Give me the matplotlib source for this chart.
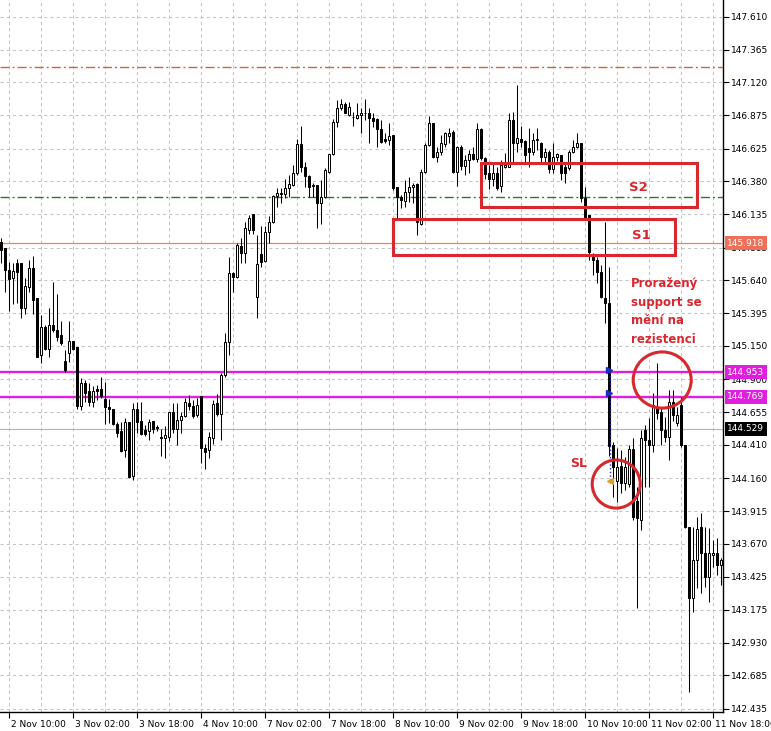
import matplotlib
matplotlib.use("Agg")
import matplotlib.pyplot as plt
from matplotlib.patches import Rectangle, Ellipse
from matplotlib.transforms import blended_transform_factory, ScaledTranslation

# H1 candles, one per hour (index 0 = 2 Nov 08:00)
opens = [145.93, 145.88, 145.72, 145.66, 145.77, 145.77, 145.43, 145.59, 145.73, 145.505,
         145.08, 145.29, 145.13, 145.305, 145.27, 145.23, 145.04, 145.10, 145.185, 145.14,
         144.70, 144.87, 144.81, 144.73, 144.825, 144.825, 144.755, 144.695, 144.675, 144.565,
         144.51, 144.37, 144.58, 144.18, 144.68, 144.59, 144.52, 144.51, 144.588, 144.546,
         144.47, 144.463, 144.47, 144.658, 144.53, 144.596, 144.626, 144.726, 144.70, 144.633,
         144.775, 144.384, 144.37, 144.46, 144.72, 144.638, 144.93, 145.18, 145.698, 145.668,
         145.90, 145.847, 146.02, 146.136, 145.518, 145.84, 145.787, 146.004, 146.074, 146.27,
         146.29, 146.286, 146.328, 146.353, 146.445, 146.657, 146.49, 146.42, 146.353, 146.353,
         146.222, 146.261, 146.454, 146.586, 146.827, 146.927, 146.96, 146.877, 146.865, 146.852,
         146.877, 146.895, 146.89, 146.852, 146.845, 146.77, 146.695, 146.69, 146.728, 146.336,
         146.266, 146.236, 146.304, 146.336, 146.361, 146.062, 146.453, 146.653, 146.815, 146.566,
         146.603, 146.66, 146.72, 146.753, 146.453, 146.64, 146.496, 146.54, 146.586, 146.546,
         146.77, 146.553, 146.44, 146.396, 146.446, 146.346, 146.486, 146.491, 146.84, 146.665,
         146.695, 146.685, 146.628, 146.603, 146.69, 146.67, 146.561, 146.603, 146.47, 146.566,
         146.578, 146.486, 146.478, 146.603, 146.64, 146.67, 146.254, 146.13, 145.83, 145.793,
         145.706, 145.506, 145.469, 144.409, 144.14, 144.252, 144.122, 144.117, 144.376, 143.993,
         143.848, 144.521, 144.446, 144.409, 144.695, 144.658, 144.521, 144.471, 144.733, 144.571,
         144.708, 144.409, 143.798, 143.262, 143.549, 143.798, 143.599, 143.424, 143.587, 143.604,
         143.512]
highs = [145.96, 145.88, 145.78, 145.77, 145.80, 145.77, 145.655, 145.79, 145.82, 145.51,
         145.38, 145.305, 145.43, 145.63, 145.54, 145.34, 145.12, 145.34, 145.19, 145.14,
         144.91, 144.895, 144.87, 144.85, 144.857, 144.92, 144.88, 144.755, 144.675, 144.58,
         144.58, 144.61, 144.58, 144.72, 144.73, 144.73, 144.56, 144.60, 144.59, 144.56,
         144.53, 144.55, 144.658, 144.72, 144.72, 144.658, 144.758, 144.783, 144.745, 144.758,
         144.778, 144.42, 144.508, 144.746, 144.79, 144.945, 145.25, 145.817, 145.70, 145.917,
         145.955, 146.075, 146.13, 146.14, 145.98, 146.05, 146.047, 146.12, 146.279, 146.33,
         146.328, 146.396, 146.428, 146.503, 146.695, 146.794, 146.528, 146.428, 146.366, 146.353,
         146.391, 146.478, 146.586, 146.845, 146.99, 146.994, 146.977, 146.977, 146.902, 146.965,
         146.927, 146.994, 146.927, 146.89, 146.852, 146.84, 146.74, 146.82, 146.728, 146.341,
         146.279, 146.391, 146.416, 146.366, 146.366, 146.47, 146.665, 146.87, 146.82, 146.64,
         146.728, 146.753, 146.778, 146.765, 146.645, 146.653, 146.578, 146.616, 146.64, 146.815,
         146.778, 146.566, 146.503, 146.516, 146.486, 146.54, 146.59, 146.89, 146.902, 147.10,
         146.795, 146.69, 146.778, 146.74, 146.778, 146.678, 146.628, 146.616, 146.665, 146.59,
         146.578, 146.516, 146.616, 146.69, 146.745, 146.67, 146.341, 146.13, 145.843, 145.818,
         145.755, 146.08, 145.74, 144.434, 144.385, 144.372, 144.322, 144.409, 144.459, 144.098,
         144.521, 144.558, 144.608, 144.80, 145.02, 144.683, 144.621, 144.82, 144.82, 144.695,
         144.77, 144.409, 143.798, 143.798, 143.873, 143.898, 143.798, 143.786, 143.698, 143.71,
         143.562]
lows = [145.77, 145.55, 145.41, 145.46, 145.47, 145.355, 145.39, 145.555, 145.39, 145.065,
        145.02, 145.12, 145.07, 145.255, 145.19, 145.155, 144.955, 145.03, 145.12, 144.68,
        144.67, 144.73, 144.70, 144.695, 144.745, 144.76, 144.565, 144.575, 144.56, 144.47,
        144.36, 144.32, 144.16, 144.15, 144.50, 144.485, 144.476, 144.45, 144.496, 144.51,
        144.33, 144.31, 144.44, 144.496, 144.41, 144.50, 144.62, 144.67, 144.608, 144.616,
        144.277, 144.227, 144.31, 144.42, 144.626, 144.45, 144.92, 145.08, 145.556, 145.66,
        145.767, 145.767, 145.99, 145.99, 145.356, 145.742, 145.78, 145.917, 146.067, 146.186,
        146.216, 146.254, 146.266, 146.346, 146.428, 146.453, 146.34, 146.266, 146.266, 146.03,
        146.062, 146.255, 146.446, 146.578, 146.79, 146.915, 146.89, 146.87, 146.795, 146.845,
        146.74, 146.84, 146.67, 146.79, 146.64, 146.67, 146.665, 146.653, 146.316, 146.104,
        146.179, 146.192, 146.229, 146.216, 145.98, 146.055, 146.446, 146.645, 146.553, 146.528,
        146.578, 146.64, 146.665, 146.446, 146.346, 146.466, 146.428, 146.446, 146.54, 146.528,
        146.54, 146.396, 146.321, 146.346, 146.316, 146.304, 146.48, 146.486, 146.516, 146.603,
        146.64, 146.528, 146.486, 146.578, 146.615, 146.528, 146.516, 146.446, 146.446, 146.53,
        146.391, 146.366, 146.466, 146.59, 146.628, 146.229, 146.104, 145.79, 145.68, 145.618,
        145.506, 145.32, 144.33, 144.02, 143.985, 144.047, 144.07, 144.097, 143.848, 143.187,
        143.773, 144.097, 144.097, 144.359, 144.60, 144.409, 144.434, 144.297, 144.59, 144.55,
        144.397, 143.786, 142.564, 143.162, 143.337, 143.30, 143.35, 143.237, 143.50, 143.437,
        143.362]
closes = [145.87, 145.72, 145.65, 145.71, 145.70, 145.43, 145.60, 145.73, 145.49, 145.07,
          145.29, 145.13, 145.31, 145.27, 145.22, 145.17, 144.97, 145.187, 145.13, 144.70,
          144.87, 144.80, 144.73, 144.815, 144.81, 144.775, 144.69, 144.675, 144.565, 144.50,
          144.366, 144.58, 144.17, 144.68, 144.58, 144.49, 144.49, 144.58, 144.53, 144.536,
          144.463, 144.48, 144.658, 144.526, 144.596, 144.626, 144.733, 144.70, 144.628, 144.708,
          144.384, 144.36, 144.466, 144.716, 144.638, 144.93, 145.18, 145.698, 145.668, 145.905,
          145.847, 146.03, 146.104, 146.017, 145.762, 145.78, 146.004, 146.074, 146.271, 146.296,
          146.287, 146.328, 146.358, 146.44, 146.657, 146.486, 146.421, 146.341, 146.346, 146.222,
          146.261, 146.466, 146.586, 146.827, 146.927, 146.96, 146.895, 146.935, 146.86, 146.877,
          146.895, 146.89, 146.852, 146.835, 146.77, 146.678, 146.686, 146.72, 146.329, 146.266,
          146.241, 146.304, 146.341, 146.354, 146.08, 146.453, 146.653, 146.815, 146.566, 146.603,
          146.67, 146.74, 146.745, 146.453, 146.64, 146.496, 146.541, 146.586, 146.546, 146.77,
          146.553, 146.436, 146.396, 146.446, 146.329, 146.503, 146.503, 146.84, 146.67, 146.703,
          146.678, 146.578, 146.603, 146.69, 146.70, 146.561, 146.603, 146.47, 146.566, 146.586,
          146.441, 146.441, 146.603, 146.64, 146.67, 146.254, 146.117, 145.855, 145.793, 145.706,
          145.519, 145.469, 144.40, 144.242, 144.245, 144.122, 144.242, 144.376, 143.873, 143.86,
          144.459, 144.446, 144.409, 144.708, 144.646, 144.521, 144.471, 144.733, 144.633, 144.633,
          144.409, 143.798, 143.262, 143.549, 143.778, 143.599, 143.424, 143.599, 143.604, 143.512,
          143.549]

time_tick_pos = [2, 18, 34, 50, 66, 82, 98, 114, 130, 146, 162, 178]
time_tick_labels = ["2 Nov 10:00", "3 Nov 02:00", "3 Nov 18:00", "4 Nov 10:00",
                    "7 Nov 02:00", "7 Nov 18:00", "8 Nov 10:00", "9 Nov 02:00",
                    "9 Nov 18:00", "10 Nov 10:00", "11 Nov 02:00", "11 Nov 18:00"]
price_ticks = [147.610, 147.365, 147.120, 146.875, 146.625, 146.380, 146.135, 145.885,
               145.640, 145.395, 145.150, 144.900, 144.655, 144.410, 144.160, 143.915,
               143.670, 143.425, 143.175, 142.930, 142.685, 142.435]

# horizontal levels
level_orange = 147.236
level_green = 146.264
level_salmon = 145.918
level_magenta = [144.953, 144.769]
level_current = 144.529

# annotation zones (bar index from/to, price low/high)
zone_s2 = (120, 174, 146.189, 146.518)
zone_s1 = (98, 168.5, 145.830, 146.099)
circle_res = (165.3, 144.895, 14.5, 0.42)
circle_sl = (153.8, 144.117, 12.0, 0.36)

red = "#d9272e"
plt.rcParams["font.family"] = "DejaVu Sans"

fig = plt.figure(figsize=(7.71, 7.31), dpi=100)
ax = fig.add_axes([0, 19 / 731, 723 / 771, 712 / 731])

n = len(opens)
xs = list(range(n))
ax.vlines(xs, lows, highs, color="black", linewidth=0.75, zorder=3)
up = [i for i in xs if closes[i] >= opens[i]]
dn = [i for i in xs if closes[i] < opens[i]]
ax.bar(up, [closes[i] - opens[i] for i in up], bottom=[opens[i] for i in up],
       width=0.5, facecolor="white", edgecolor="black", linewidth=0.72, zorder=4)
ax.bar(dn, [opens[i] - closes[i] for i in dn], bottom=[closes[i] for i in dn],
       width=0.5, facecolor="black", edgecolor="black", linewidth=0.72, zorder=4)

# levels
ax.axhline(level_orange, color="#cc6a2a", linewidth=1, linestyle=(0, (6.5, 2.2, 1.4, 2.2)), zorder=2)
ax.axhline(level_green, color="#2a7a2a", linewidth=1, linestyle=(0, (6.5, 2.2, 1.4, 2.2)), zorder=2)
ax.axhline(level_salmon, color="#ee8068", linewidth=0.9, zorder=2)
for lv in level_magenta:
    ax.axhline(lv, color="#e01ee0", linewidth=1.7, zorder=2)
ax.axhline(level_current, color="#b4b4b4", linewidth=0.8, zorder=2)

# trade marks
ax.vlines([152.15], 144.15, 144.97, colors="#1a2ccc", linestyles=":", linewidth=1, zorder=5)
ax.plot([152.0, 152.0], [144.97, 144.80], linestyle="none", marker=">", color="#1a2ccc",
        markersize=4, zorder=6)
ax.plot([152.3], [144.14], linestyle="none", marker="<", color="#d9a030", markersize=4, zorder=6)

# zones
for x0, x1, y0, y1 in (zone_s2, zone_s1):
    ax.add_patch(Rectangle((x0, y0), x1 - x0, y1 - y0, fill=False, edgecolor=red,
                           linewidth=2.2, zorder=7))
for cx, cy, w, h in (circle_res, circle_sl):
    ax.add_patch(Ellipse((cx, cy), w, h, fill=False, edgecolor=red, linewidth=2.2, zorder=7))

ax.text(159.25, 146.338, "S2", color=red, fontsize=9.5, fontweight="bold",
        ha="center", va="center", zorder=8)
ax.text(160.0, 145.979, "S1", color=red, fontsize=9.5, fontweight="bold",
        ha="center", va="center", zorder=8)
ax.text(157.4, 145.665, "Proražený\nsupport se\nmění na\nrezistenci", color=red,
        fontsize=8.5, fontweight="bold", ha="left", va="top", linespacing=1.55, zorder=8)
ax.text(144.3, 144.274, "SL", color=red, fontsize=9, fontweight="bold",
        ha="center", va="center", zorder=8)

# axes styling
for s in ("left", "top"):
    ax.spines[s].set_visible(False)
for s in ("right", "bottom"):
    ax.spines[s].set_color("black")
    ax.spines[s].set_linewidth(1)
ax.yaxis.tick_right()
ax.set_yticks(price_ticks)
ax.set_yticklabels([f"{p:.3f}" for p in price_ticks])
ax.set_xticks(time_tick_pos)
ax.set_xticklabels(time_tick_labels, ha="left")
ax.set_xticks([p + 8 for p in time_tick_pos if p + 8 <= 180], minor=True)
ax.tick_params(axis="both", which="major", labelsize=6.5, length=4, width=0.8,
               direction="out", color="black", pad=2)
ax.tick_params(axis="x", which="minor", length=0)
ax.grid(True, which="both", color="#c4c4c4", linestyle=(0, (3, 3)), linewidth=0.75, zorder=0)
ax.set_axisbelow(True)
shift = ScaledTranslation(2 / 100, 0, fig.dpi_scale_trans)
for lbl in ax.get_xticklabels():
    lbl.set_transform(lbl.get_transform() + shift)

# view limits last, so tick setting cannot widen them
ax.set_xlim(-0.25, 180.5)
ax.set_ylim(142.412, 147.737)

# coloured price labels on the right axis
tr = blended_transform_factory(ax.transAxes, ax.transData)
for price, bg in ((level_salmon, "#ee7058"), (level_magenta[0], "#e01ee0"),
                  (level_magenta[1], "#e01ee0"), (level_current, "black")):
    ax.text(1.006, price, f"{price:.3f}", transform=tr, color="white", fontsize=6.5,
            ha="left", va="center", clip_on=False, zorder=10,
            bbox=dict(boxstyle="square,pad=0.25", facecolor=bg, edgecolor="none"))

fig.savefig("out.png", dpi=100)
